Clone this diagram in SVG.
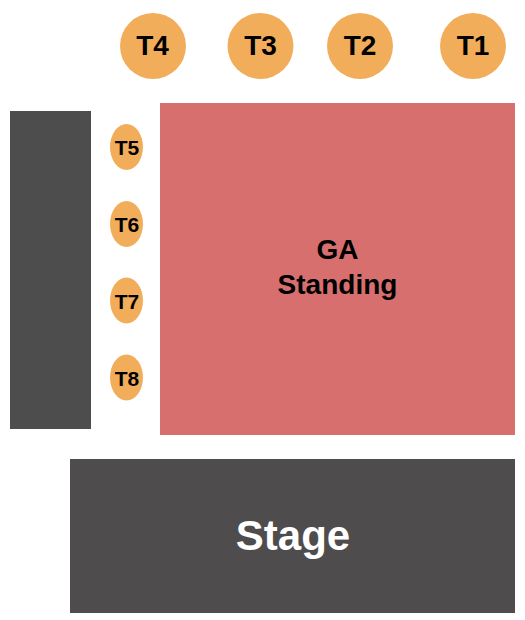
<svg xmlns="http://www.w3.org/2000/svg" width="525" height="620" viewBox="0 0 525 620">
<style>
.t{fill:#f2ad5b}
.lbl{font-family:"Liberation Sans",Arial,sans-serif;font-weight:bold;fill:#000;text-anchor:middle}
.big{font-size:28px}
.sm{font-size:21px}
</style>
<rect width="525" height="620" fill="#fff"/>
<g id="side-block"><rect x="10" y="111" width="81" height="318" fill="#4d4d4d"/></g>
<g id="ga"><rect x="160" y="103" width="355" height="332" fill="#d86f6f"/>
<text class="lbl" x="337.5" y="258.5" font-size="28">GA</text>
<text class="lbl" x="337.5" y="294" font-size="28">Standing</text></g>
<g id="stage"><rect x="70" y="459" width="445" height="154" fill="#4f4c4d"/>
<text x="293" y="550" font-family="Liberation Sans,Arial,sans-serif" font-weight="bold" font-size="42" fill="#fff" text-anchor="middle">Stage</text></g>
<g id="T4"><circle class="t" cx="153" cy="46" r="33"/><text class="lbl big" x="152.5" y="55">T4</text></g>
<g id="T3"><circle class="t" cx="260.5" cy="46" r="33"/><text class="lbl big" x="260.5" y="55">T3</text></g>
<g id="T2"><circle class="t" cx="360" cy="46" r="33"/><text class="lbl big" x="360" y="55">T2</text></g>
<g id="T1"><circle class="t" cx="473" cy="46" r="33"/><text class="lbl big" x="473" y="55">T1</text></g>
<g id="T5"><ellipse class="t" cx="126.5" cy="147" rx="16.5" ry="23"/><text class="lbl sm" x="127" y="155">T5</text></g>
<g id="T6"><ellipse class="t" cx="126.5" cy="224" rx="16.5" ry="23"/><text class="lbl sm" x="127" y="232">T6</text></g>
<g id="T7"><ellipse class="t" cx="126.5" cy="300.5" rx="16.5" ry="23"/><text class="lbl sm" x="127" y="308.5">T7</text></g>
<g id="T8"><ellipse class="t" cx="126.5" cy="377.5" rx="16.5" ry="23"/><text class="lbl sm" x="127" y="385.5">T8</text></g>
<g id="connectors"/>
</svg>
